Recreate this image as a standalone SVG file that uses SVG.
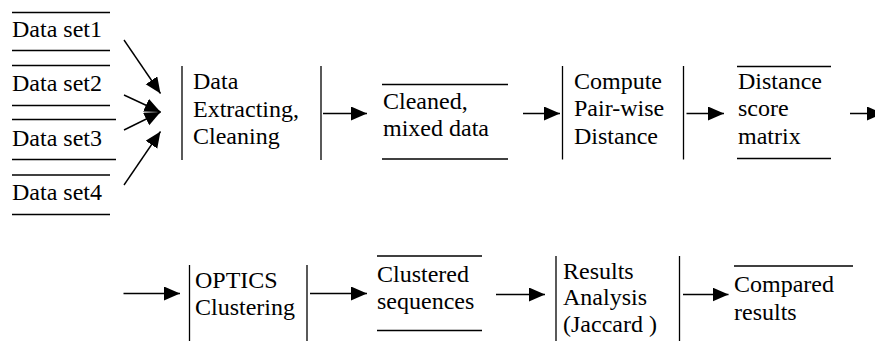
<svg xmlns="http://www.w3.org/2000/svg" width="875" height="341" viewBox="0 0 875 341">
<style>
text{font-family:"Liberation Serif","Times New Roman",serif;font-size:24px;fill:#000}
.b{stroke:#000;stroke-width:1.3;fill:none}
.c{stroke:#000;stroke-width:1.4;fill:none;marker-end:url(#ah)}
</style>
<defs>
<marker id="ah" markerUnits="userSpaceOnUse" markerWidth="17" markerHeight="15" refX="16" refY="7" orient="auto">
<path d="M0,0 L16,7 L0,14 z" fill="#000"/>
</marker>
</defs>
<rect width="875" height="341" fill="#fff"/>
<g id="ds1"><line class="b" x1="12" y1="12.5" x2="110" y2="12.5"/><line class="b" x1="12" y1="50.5" x2="110" y2="50.5"/><text x="12" y="37">Data set1</text></g>
<g id="ds2"><line class="b" x1="12" y1="65.5" x2="110" y2="65.5"/><line class="b" x1="12" y1="105.5" x2="110" y2="105.5"/><text x="12" y="91">Data set2</text></g>
<g id="ds3"><line class="b" x1="12" y1="119.5" x2="116" y2="119.5"/><line class="b" x1="12" y1="159.5" x2="116" y2="159.5"/><text x="12" y="146">Data set3</text></g>
<g id="ds4"><line class="b" x1="12" y1="175" x2="110" y2="175"/><line class="b" x1="12" y1="214.5" x2="110" y2="214.5"/><text x="12" y="200">Data set4</text></g>
<g id="extract"><line class="b" x1="182" y1="66" x2="182" y2="160"/><line class="b" x1="321" y1="66" x2="321" y2="160"/><text><tspan x="193" y="88.5">Data</tspan><tspan x="193" y="116.5">Extracting,</tspan><tspan x="193" y="143.5">Cleaning</tspan></text></g>
<g id="cleaned"><line class="b" x1="382" y1="84.5" x2="508" y2="84.5"/><line class="b" x1="382" y1="159" x2="508" y2="159"/><text><tspan x="383" y="108.5">Cleaned,</tspan><tspan x="383" y="136">mixed data</tspan></text></g>
<g id="compute"><line class="b" x1="562.5" y1="66" x2="562.5" y2="159.5"/><line class="b" x1="683.5" y1="66" x2="683.5" y2="159.5"/><text><tspan x="574" y="88.5">Compute</tspan><tspan x="574" y="116">Pair-wise</tspan><tspan x="574" y="143.5">Distance</tspan></text></g>
<g id="matrix"><line class="b" x1="737" y1="66.5" x2="831" y2="66.5"/><line class="b" x1="737" y1="158.5" x2="831" y2="158.5"/><text><tspan x="738" y="88.5">Distance</tspan><tspan x="738" y="116">score</tspan><tspan x="738" y="143.5">matrix</tspan></text></g>
<g id="optics"><line class="b" x1="189.5" y1="265" x2="189.5" y2="341"/><line class="b" x1="307" y1="265" x2="307" y2="341"/><text><tspan x="195" y="287.5">OPTICS</tspan><tspan x="195" y="315">Clustering</tspan></text></g>
<g id="clustered"><line class="b" x1="377" y1="256" x2="482" y2="256"/><line class="b" x1="377" y1="330.5" x2="482" y2="330.5"/><text><tspan x="377" y="282">Clustered</tspan><tspan x="377" y="309">sequences</tspan></text></g>
<g id="results"><line class="b" x1="556" y1="256" x2="556" y2="341"/><line class="b" x1="679.5" y1="256" x2="679.5" y2="341"/><text><tspan x="563" y="278.5">Results</tspan><tspan x="563" y="305">Analysis</tspan><tspan x="563" y="332">(Jaccard )</tspan></text></g>
<g id="compared"><line class="b" x1="734" y1="266" x2="853" y2="266"/><text><tspan x="734" y="292">Compared</tspan><tspan x="734" y="319.5">results</tspan></text></g>
<g id="connectors">
<line class="c" x1="124" y1="40" x2="160.5" y2="93.5"/>
<line class="c" x1="124" y1="95" x2="160.5" y2="112"/>
<line class="c" x1="124" y1="130" x2="160.5" y2="112"/>
<line class="c" x1="124" y1="185" x2="160.5" y2="131.5"/>
<line class="c" x1="323" y1="113.5" x2="367" y2="113.5"/>
<line class="c" x1="523" y1="113.5" x2="560" y2="113.5"/>
<line class="c" x1="686.5" y1="113.5" x2="724" y2="113.5"/>
<line class="c" x1="850" y1="113.5" x2="883" y2="113.5"/>
<line class="c" x1="123.5" y1="293.5" x2="180" y2="293.5"/>
<line class="c" x1="310" y1="293.5" x2="367" y2="293.5"/>
<line class="c" x1="496" y1="294.5" x2="545" y2="294.5"/>
<line class="c" x1="683" y1="294.5" x2="728.5" y2="294.5"/>
</g>
</svg>
